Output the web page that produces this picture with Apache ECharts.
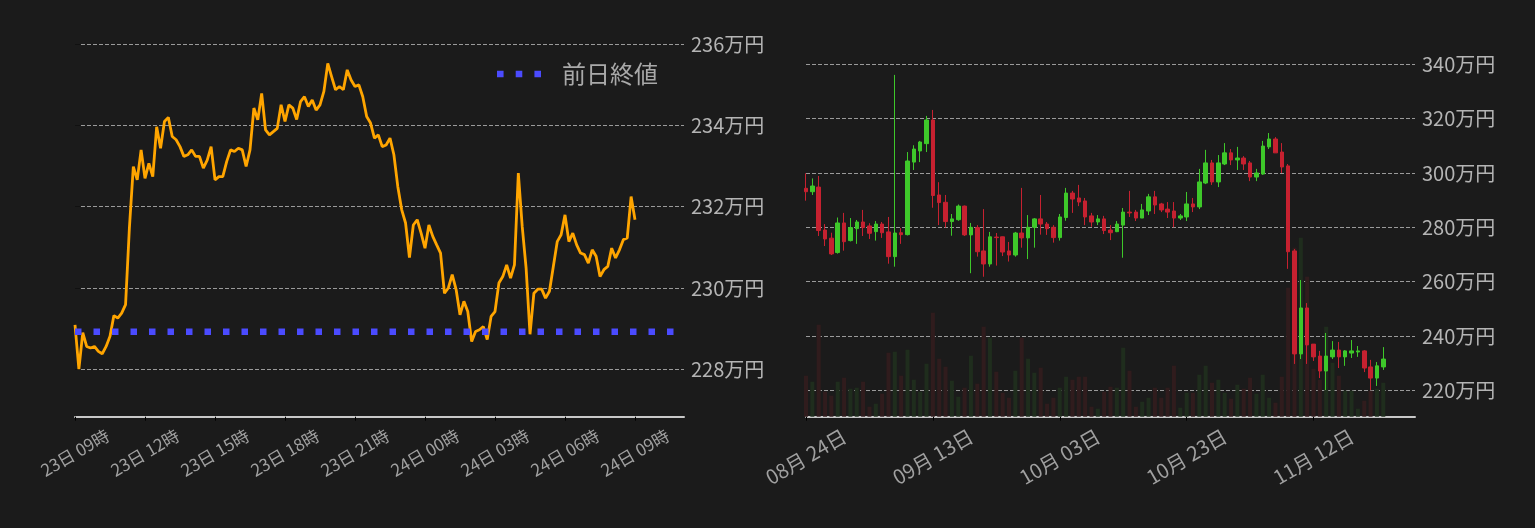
<!DOCTYPE html>
<html><head><meta charset="utf-8">
<script src="https://cdn.jsdelivr.net/npm/echarts@6/dist/echarts.min.js"></script>
<style>html,body{margin:0;padding:0;background:#1b1b1b;}#c{width:1535px;height:528px;}</style>
</head><body><div id="c"></div>
<script>
// ---- left chart: intraday price (万円), one value every 10 minutes from 23日 09:00 ----
const timeLabels = ['23日 09時','23日 12時','23日 15時','23日 18時','23日 21時','24日 00時','24日 03時','24日 06時','24日 09時'];
const timeTickMinutes = [0,180,360,540,720,900,1080,1260,1440];
const stepMinutes = 10;
const prices = [
229.09,228.00,228.90,228.56,228.52,228.56,228.44,228.38,228.56,228.81,
229.32,229.26,229.38,229.59,231.50,232.99,232.66,233.40,232.70,233.07,
232.74,233.97,233.44,234.10,234.20,233.73,233.65,233.48,233.24,233.28,
233.40,233.24,233.24,232.95,233.15,233.48,232.66,232.74,232.74,233.11,
233.40,233.36,233.44,233.40,232.99,233.40,234.43,234.14,234.79,233.89,
233.77,233.85,233.93,234.51,234.10,234.51,234.43,234.15,234.59,234.71,
234.47,234.63,234.38,234.51,234.84,235.53,235.20,234.88,234.96,234.88,
235.37,235.12,234.96,235.00,234.71,234.22,234.06,233.69,233.77,233.48,
233.52,233.69,233.28,232.50,231.93,231.60,230.75,231.55,231.68,231.35,
230.98,231.55,231.27,231.06,230.86,229.87,230.00,230.33,229.96,229.34,
229.67,229.42,228.68,228.93,228.97,229.05,228.73,229.30,229.42,230.12,
230.28,230.57,230.24,230.57,232.83,231.51,230.49,228.86,229.87,229.97,
229.97,229.75,229.92,230.53,231.14,231.31,231.80,231.14,231.35,231.06,
230.86,230.82,230.61,230.94,230.78,230.28,230.45,230.53,230.98,230.74,
230.94,231.19,231.23,232.25,231.68];
const prevClose = 228.92;
const prevCloseName = '前日終値';

// ---- right chart: daily candles (万円) ----
const dates = [
'08-24','08-25','08-26','08-27','08-28','08-29','08-30','08-31',
'09-01','09-02','09-03','09-04','09-05','09-06','09-07','09-08','09-09','09-10',
'09-11','09-12','09-13','09-14','09-15','09-16','09-17','09-18','09-19','09-20',
'09-21','09-22','09-23','09-24','09-25','09-26','09-27','09-28','09-29','09-30',
'10-01','10-02','10-03','10-04','10-05','10-06','10-07','10-08','10-09','10-10',
'10-11','10-12','10-13','10-14','10-15','10-16','10-17','10-18','10-19','10-20',
'10-21','10-22','10-23','10-24','10-25','10-26','10-27','10-28','10-29','10-30','10-31',
'11-01','11-02','11-03','11-04','11-05','11-06','11-07','11-08','11-09','11-10',
'11-11','11-12','11-13','11-14','11-15','11-16','11-17','11-18','11-19','11-20',
'11-21','11-22','11-23','11-24','11-25','11-26','11-27','11-28'];
const opens = [
294.35,293.1,294.8,279.0,276.0,270.7,281.6,275.1,279.5,281.95,
280.5,278.4,281.2,278.3,269.2,278.0,277.3,304.0,308.1,310.8,
319.5,291.9,289.2,282.1,282.8,287.8,277.2,279.9,271.3,266.5,
276.4,276.5,271.3,269.8,277.9,276.1,280.0,283.1,281.2,280.0,
276.2,283.6,292.6,290.8,289.7,284.2,281.95,283.1,279.0,278.4,
280.8,285.6,285.6,283.4,286.0,291.2,288.6,286.7,286.0,283.4,
283.8,288.6,287.5,296.3,303.7,296.7,303.3,307.4,304.8,305.5,
303.7,298.5,299.6,309.6,312.5,307.7,302.6,271.3,233.4,250.3,
237.0,232.6,227.1,232.3,234.8,232.3,233.7,234.1,234.5,228.6,
224.5,228.6];
const closes = [
293.1,295.2,278.8,275.7,270.2,281.6,274.7,279.9,281.95,279.9,
277.8,281.2,278.0,269.2,277.9,277.3,304.4,308.8,311.4,319.5,
291.7,289.1,282.1,283.1,287.8,277.2,280.0,271.0,266.5,276.5,
276.2,270.9,269.8,277.9,276.1,280.0,283.1,281.2,279.5,276.2,
283.8,292.6,290.4,289.3,283.8,281.95,283.1,278.8,278.0,281.2,
285.6,285.3,283.4,286.4,291.2,288.2,286.4,285.6,283.4,284.2,
288.6,287.5,296.7,303.7,296.7,303.7,307.4,304.8,305.5,303.3,
298.5,300.0,309.9,312.5,307.4,302.2,271.0,233.4,250.3,236.7,
232.3,227.1,232.6,234.8,232.3,234.5,234.5,234.5,228.2,224.5,
229.0,231.5];
const lows = [
289.8,291.9,276.8,273.1,269.8,270.3,271.4,274.8,273.9,276.8,
275.7,275.1,276.1,266.6,265.5,273.9,277.0,301.1,304.0,307.7,
287.2,280.8,279.9,276.9,282.4,276.8,263.1,269.2,261.8,265.5,
265.9,269.4,267.4,269.2,272.5,268.3,272.5,277.3,277.2,274.35,
275.1,282.4,285.3,287.8,280.8,280.2,280.8,277.5,275.3,278.2,
268.8,283.8,282.3,283.4,284.5,284.9,285.6,283.4,280.0,282.7,
282.3,285.6,286.7,295.9,295.6,294.8,302.9,302.9,301.1,301.1,
297.0,297.0,299.3,308.8,307.4,300.0,264.7,229.7,231.5,229.7,
230.8,224.5,220.1,231.5,228.2,229.0,231.9,232.3,226.7,220.1,
221.6,227.5];
const highs = [
299.87,298.0,298.9,281.2,278.0,283.6,285.3,283.4,282.7,286.4,
281.5,282.3,281.95,283.8,336.1,279.7,307.7,310.2,311.8,321.0,
323.2,296.6,291.9,284.9,288.4,288.0,281.6,280.8,286.7,278.3,
277.9,276.6,274.6,278.3,294.5,284.5,283.4,291.9,281.95,280.8,
284.9,294.5,293.4,295.6,290.8,285.3,284.5,284.2,280.8,282.3,
287.1,293.4,286.4,288.6,292.3,293.4,289.0,289.3,289.3,284.9,
293.0,290.8,301.5,308.5,304.8,306.6,311.0,308.8,309.6,306.2,
304.4,301.5,311.8,314.7,313.2,311.0,303.3,272.0,260.6,252.1,
237.0,234.5,241.1,238.1,237.8,234.8,238.5,236.3,234.8,231.2,
230.4,235.9];
const volumes = [
41,35,92,25,21,35,39,28,29,35,10,13,23,64,65,41,67,37,25,53,
104,58,50,36,20,29,61,33,90,79,45,24,19,46,79,58,44,49,13,19,
29,40,37,40,40,10,8,25,30,29,69,46,10,15,19,29,19,29,51,9,
24,24,42,51,34,37,24,18,32,28,39,23,42,19,14,40,129,169,179,140,
48,37,90,54,41,26,26,8,16,26,28,34];

const BG = '#1b1b1b';
const UP = '#3ec82a', DOWN = '#c62130';
const UP_VOL = '#1f2d1d', DOWN_VOL = '#301c1d';
const FONT = 'Noto Sans CJK JP';
const gridLine = { show: true, lineStyle: { color: '#9a9a9a', width: 1, type: [4, 2] }, showMinLine: false };
const dotsIcon = 'path://M0,0h6.5v6.5h-6.5z M18.5,0h6.5v6.5h-6.5z M37,0h6.5v6.5h-6.5z';

const linePoints = prices.map((p, i) => [i * stepMinutes, p]);
const xMaxLeft = 1566;
const candles = opens.map((o, i) => [o, closes[i], lows[i], highs[i]]);

const chart = echarts.init(document.getElementById('c'));
chart.setOption({
  backgroundColor: BG,
  animation: false,
  textStyle: { fontFamily: FONT },
  legend: {
    data: [{ name: prevCloseName, icon: dotsIcon }], left: 492, top: 57, itemWidth: 44, itemHeight: 7,
    itemStyle: { color: '#4b4bff' },
    textStyle: { fontSize: 24, color: '#a9a9a9', fontFamily: FONT, padding: [0, 0, 0, 16] }
  },
  grid: [
    { left: 75, top: 44.3, width: 609, height: 372.4 },
    { left: 806, top: 64.3, width: 609, height: 352.4 }
  ],
  xAxis: [
    {
      type: 'value', gridIndex: 0, min: 0, max: xMaxLeft, interval: 180,
      axisLine: { show: true, lineStyle: { color: '#c8c8c8', width: 2 } },
      axisTick: { show: true, length: 4, customValues: timeTickMinutes, lineStyle: { color: '#000' } },
      splitLine: { show: false },
      axisLabel: {
        customValues: timeTickMinutes,
        rotate: 30, align: 'center', verticalAlign: 'middle', margin: 36,
        fontSize: 17, color: '#a0a0a0', fontFamily: FONT,
        formatter: v => timeLabels[timeTickMinutes.indexOf(v)] || ''
      }
    },
    {
      type: 'category', gridIndex: 1, data: dates, boundaryGap: false,
      axisLine: { show: true, lineStyle: { color: '#c8c8c8', width: 2 } },
      axisTick: { show: true, length: 4, interval: 19, lineStyle: { color: '#000' } },
      splitLine: { show: false },
      axisLabel: {
        interval: 19, rotate: 30, align: 'center', verticalAlign: 'middle', margin: 40,
        fontSize: 20, color: '#a0a0a0', fontFamily: FONT,
        formatter: v => v.slice(0, 2) + '月 ' + v.slice(3) + '日'
      }
    }
  ],
  yAxis: [
    {
      type: 'value', gridIndex: 0, position: 'right', min: 226.83, max: 236, splitNumber: 5,
      axisLine: { show: false },
      axisTick: { show: true, length: 5, lineStyle: { color: '#111' } },
      splitLine: gridLine,
      axisLabel: { showMinLabel: false, margin: 7, fontSize: 20, color: '#b4b4b4', fontFamily: FONT,
        formatter: v => Math.round(v) + '万円' }
    },
    {
      type: 'value', gridIndex: 1, position: 'right', min: 210.28, max: 340, splitNumber: 7,
      axisLine: { show: false },
      axisTick: { show: false },
      splitLine: gridLine,
      axisLabel: { showMinLabel: false, margin: 7, fontSize: 20, color: '#b4b4b4', fontFamily: FONT,
        formatter: v => Math.round(v) + '万円' }
    },
    {
      type: 'value', gridIndex: 1, min: 0, max: 352.4, show: false, splitLine: { show: false }
    }
  ],
  series: [
    {
      name: '価格', type: 'line', xAxisIndex: 0, yAxisIndex: 0, data: linePoints,
      showSymbol: false, symbol: 'none', lineStyle: { color: '#ffa500', width: 2.8 }, z: 2
    },
    {
      name: prevCloseName, type: 'line', xAxisIndex: 0, yAxisIndex: 0,
      data: [[0, prevClose], [xMaxLeft, prevClose]],
      symbol: 'none', showSymbol: false, itemStyle: { color: '#4b4bff' },
      lineStyle: { color: '#4b4bff', width: 6.5, type: [6.5, 12], cap: 'butt' }, z: 3
    },
    {
      name: '出来高', type: 'bar', xAxisIndex: 1, yAxisIndex: 2, data: volumes, barWidth: 4,
      itemStyle: { color: p => closes[p.dataIndex] >= opens[p.dataIndex] ? UP_VOL : DOWN_VOL }, z: 1
    },
    {
      name: '日足', type: 'candlestick', xAxisIndex: 1, yAxisIndex: 1, data: candles, barWidth: 4,
      itemStyle: { color: UP, color0: DOWN, borderColor: UP, borderColor0: DOWN, borderWidth: 1 }, z: 2
    }
  ]
});
</script>
</body></html>
